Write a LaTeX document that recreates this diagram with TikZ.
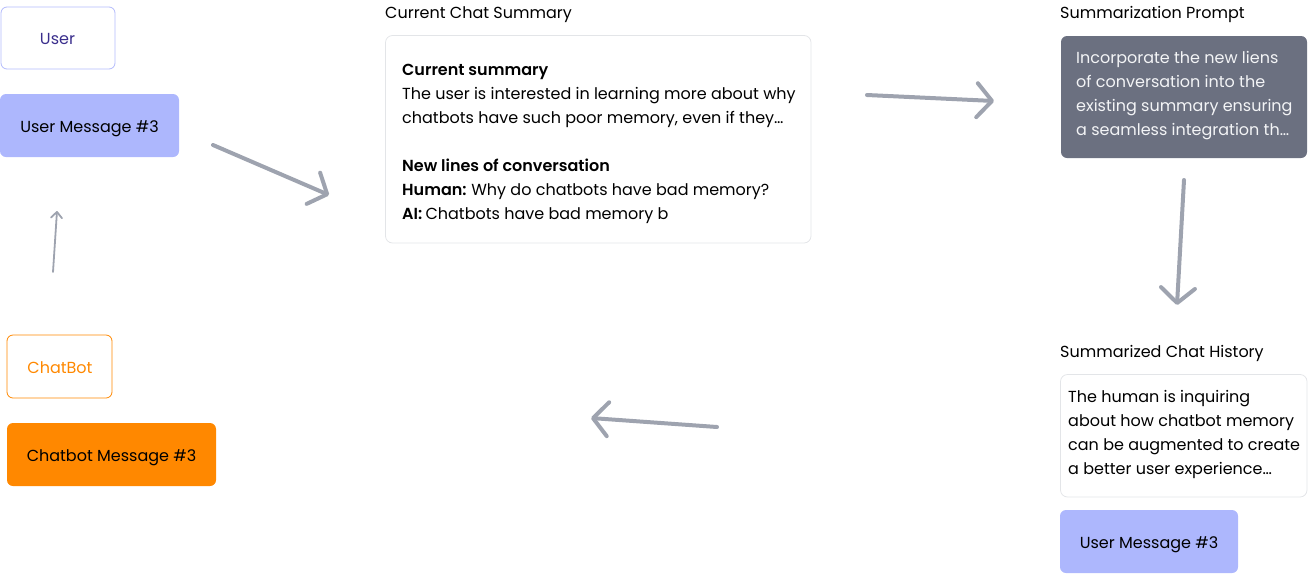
\documentclass[tikz,border=0pt]{standalone}
\usepackage{fontspec}
\setmainfont{Poppins}[BoldFont={Poppins SemiBold}]
\usetikzlibrary{arrows.meta}
\definecolor{userfill}{HTML}{ADB7FD}
\definecolor{userline}{HTML}{B3BBFB}
\definecolor{usertext}{HTML}{3A2E8C}
\definecolor{botorange}{HTML}{FF8800}
\definecolor{boxline}{HTML}{E3E5E8}
\definecolor{promptfill}{HTML}{6B7080}
\definecolor{prompttext}{HTML}{F3F4F6}
\definecolor{arrowgray}{HTML}{9EA3AF}
\tikzset{
  x=1pt, y=-1pt,
  txt/.style={font=\fontsize{16}{24}\selectfont, inner sep=0pt, anchor=base west},
  ctxt/.style={font=\fontsize{16}{24}\selectfont, inner sep=0pt, anchor=base},
  card/.style={draw=boxline, line width=0.8pt, rounded corners=7pt},
  bigarrow/.style={draw=arrowgray, line width=4pt, line cap=round, -{Straight Barb[length=15pt,width=34pt,round]}},
  smallarrow/.style={draw=arrowgray, line width=1.8pt, line cap=round, -{Straight Barb[length=6pt,width=11pt,round]}}
}
\begin{document}
\begin{tikzpicture}
\useasboundingbox (0,0) rectangle (1308,574);
% left column
\draw[draw=userline, line width=0.8pt, rounded corners=6pt] (1,7) rectangle (115,69);
\node[ctxt, text=usertext] (user) at (57.5,44) {User};
\fill[userfill, rounded corners=6pt] (0,94) rectangle (179,157);
\node[ctxt] (um) at (89.5,132) {User Message \#3};
\draw[draw=botorange, line width=0.8pt, rounded corners=6pt] (7,335) rectangle (112,398);
\node[ctxt, text=botorange] (bot) at (60,373) {ChatBot};
\fill[botorange, rounded corners=6pt] (7,423) rectangle (216,486);
\node[ctxt] (bm) at (111.5,461) {Chatbot Message \#3};
% current chat summary
\node[txt] (lbl1) at (385,18) {Current Chat Summary};
\draw[card] (385.5,35.5) rectangle (811,243);
\node[txt] (s1) at (402,75) {\bfseries Current summary};
\node[txt] (s2) at (402,99) {The user is interested in learning more about why};
\node[txt] (s3) at (402,123) {chatbots have such poor memory, even if they\ldots};
\node[txt] (s4) at (402,171) {\bfseries New lines of conversation};
\node[txt] (s5) at (402,195) {\textbf{Human:}\hspace{-1pt} Why do chatbots have bad memory?};
\node[txt] (s6) at (402,219) {\textbf{AI:}\hspace{-1pt} Chatbots have bad memory b};
% summarization prompt
\node[txt] (lbl2) at (1060,18) {Summarization Prompt};
\fill[promptfill, rounded corners=6pt] (1061,36) rectangle (1307,158);
\node[txt, text=prompttext] (p1) at (1076,63) {Incorporate the new liens};
\node[txt, text=prompttext] (p2) at (1076,87) {of conversation into the};
\node[txt, text=prompttext] (p3) at (1076,111) {existing summary ensuring};
\node[txt, text=prompttext] (p4) at (1076,135) {a seamless integration th\ldots};
% summarized chat history
\node[txt] (lbl3) at (1060,357) {Summarized Chat History};
\draw[card] (1060.5,374.5) rectangle (1307,497);
\node[txt] (h1) at (1068,402) {The human is inquiring};
\node[txt] (h2) at (1068,426) {about how chatbot memory};
\node[txt] (h3) at (1068,450) {can be augmented to create};
\node[txt] (h4) at (1068,474) {a better user experience\ldots};
\fill[userfill, rounded corners=6pt] (1060,510) rectangle (1238,573);
\node[ctxt] (um2) at (1149,548) {User Message \#3};
% arrows
\coordinate (a1s) at (213,145); \coordinate (a1e) at (329,195);
\coordinate (a2s) at (867,95);  \coordinate (a2e) at (994,101);
\coordinate (a3s) at (1184,180); \coordinate (a3e) at (1177,305);
\coordinate (a4s) at (717,427); \coordinate (a4e) at (591,418);
\coordinate (a5s) at (53,272); \coordinate (a5e) at (57,211);
\draw[bigarrow] (a1s) -- (a1e);
\draw[bigarrow] (a2s) -- (a2e);
\draw[bigarrow] (a3s) -- (a3e);
\draw[bigarrow] (a4s) -- (a4e);
\draw[smallarrow] (a5s) -- (a5e);
\end{tikzpicture}
\end{document}
